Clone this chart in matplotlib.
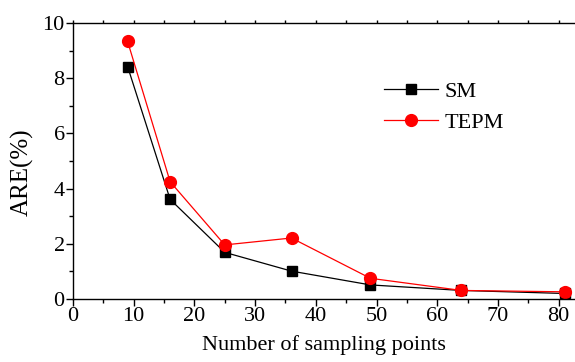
import matplotlib
matplotlib.use("Agg")
import matplotlib.pyplot as plt
from matplotlib.ticker import MultipleLocator

x_points = [9, 16, 25, 36, 49, 64, 81]
sm_values = [8.42, 3.61, 1.69, 1.01, 0.51, 0.31, 0.20]
tepm_values = [9.33, 4.25, 1.96, 2.21, 0.75, 0.31, 0.26]
series_labels = ["SM", "TEPM"]
x_label = "Number of sampling points"
y_label = "ARE(%)"

plt.rcParams['font.family'] = ['Liberation Serif', 'DejaVu Serif']

W, H = 575, 362
fig = plt.figure(figsize=(W / 100, H / 100), dpi=100)
left_px, px_per_unit = 73, 6.07
xmax = 83
ax_w = xmax * px_per_unit
ax_h = 299 - 23
ax = fig.add_axes([left_px / W, (H - 299) / H, ax_w / W, ax_h / H])

ax.plot(x_points, sm_values, color='black', lw=0.9, marker='s', ms=7.5,
        label=series_labels[0])
ax.plot(x_points, tepm_values, color='red', lw=0.9, marker='o', ms=8.5,
        label=series_labels[1])

ax.set_xlim(0, xmax)
ax.set_ylim(0, 10)
ax.xaxis.set_major_locator(MultipleLocator(10))
ax.xaxis.set_minor_locator(MultipleLocator(5))
ax.yaxis.set_major_locator(MultipleLocator(2))
ax.yaxis.set_minor_locator(MultipleLocator(1))

ax.spines['right'].set_visible(False)
for s in ['left', 'bottom', 'top']:
    ax.spines[s].set_linewidth(1.0)

ax.tick_params(axis='both', which='major', direction='out', length=5, width=1,
               labelsize=16, pad=1)
ax.tick_params(axis='both', which='minor', direction='out', length=3, width=1)
ax.tick_params(axis='x', which='both', top=True, labeltop=False)

for t in ax.xaxis.get_major_ticks() + ax.xaxis.get_minor_ticks():
    t.tick2line.set_markersize(2)
    t.tick2line.set_marker(2)

ax.set_xlabel(x_label, fontsize=16)
ax.xaxis.label.set_va('center')
ax.xaxis.set_label_coords((324 - left_px) / ax_w, (299 - 345) / ax_h)
ax.set_ylabel(y_label, fontsize=18)
ax.yaxis.label.set_va('center')
ax.yaxis.set_label_coords((22 - left_px) / ax_w, (299 - 172) / ax_h)

ax.legend(loc='upper left', bbox_to_anchor=(0.6, 0.82), frameon=False,
          fontsize=16, handlelength=2.4, handletextpad=0.3, labelspacing=0.45,
          borderaxespad=0)

fig.savefig("out.png", dpi=100)
